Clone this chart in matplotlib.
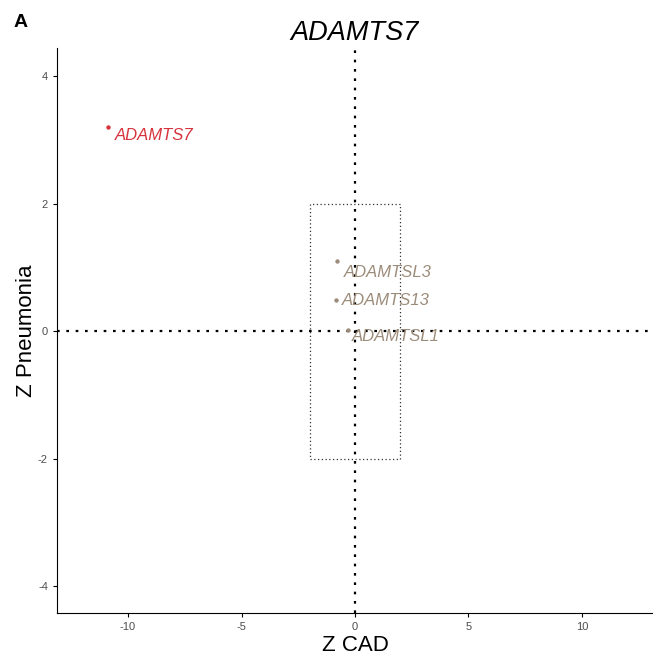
import matplotlib.pyplot as plt
from matplotlib.patches import Rectangle

plt.rcParams['axes.unicode_minus'] = False

# gene z-scores
genes = ['ADAMTS7', 'ADAMTSL3', 'ADAMTS13', 'ADAMTSL1']
z_cad = [-10.88, -0.78, -0.84, -0.31]
z_pneu = [3.20, 1.10, 0.49, 0.01]
highlight = [True, False, False, False]
label_dx = [0.3, 0.3, 0.25, 0.15]
label_dy = [-0.13, -0.18, -0.01, -0.1]

red = '#D7333D'
grey = '#9C8C7A'

fig = plt.figure(figsize=(6.53, 6.57), dpi=100)
ax = fig.add_axes([0.0873, 0.067, 0.9127, 0.86])

# reference lines and threshold box
ax.axhline(0, color='black', linestyle=(0, (1.2, 3)), linewidth=1.6, zorder=1)
ax.axvline(0, color='black', linestyle=(0, (1.2, 3)), linewidth=1.6, zorder=1)
ax.add_patch(Rectangle((-2, -2), 4, 4, fill=False, edgecolor='#333333',
                       linestyle=(0, (1, 2)), linewidth=0.9, zorder=1))

for g, x, y, hl, dx, dy in zip(genes, z_cad, z_pneu, highlight, label_dx, label_dy):
    c = red if hl else grey
    ax.scatter(x, y, s=10, color=c, zorder=3, linewidths=0)
    ax.text(x + dx, y + dy, g, color=c, fontsize=12, style='italic',
            ha='left', va='center', family='Liberation Sans')

ax.set_xlim(-13.13, 13.13)
ax.set_ylim(-4.42, 4.44)
ax.set_xticks([-10, -5, 0, 5, 10])
ax.set_yticks([-4, -2, 0, 2, 4])
ax.spines['top'].set_visible(False)
ax.spines['right'].set_visible(False)
ax.tick_params(labelsize=8, length=3, colors='black', labelcolor='#4d4d4d')
for lbl in ax.get_xticklabels() + ax.get_yticklabels():
    lbl.set_family('Liberation Sans')

ax.set_xlabel('Z CAD', fontsize=16, family='Liberation Sans', labelpad=2)
ax.set_ylabel('Z Pneumonia', fontsize=16, family='Liberation Sans', labelpad=1)
ax.set_title('ADAMTS7', fontsize=19.5, style='italic', family='Liberation Sans', pad=6)
fig.text(0.02, 0.965, 'A', fontsize=14, fontweight='bold',
         family='Liberation Sans', va='center')

fig.savefig('out.png', dpi=100)
